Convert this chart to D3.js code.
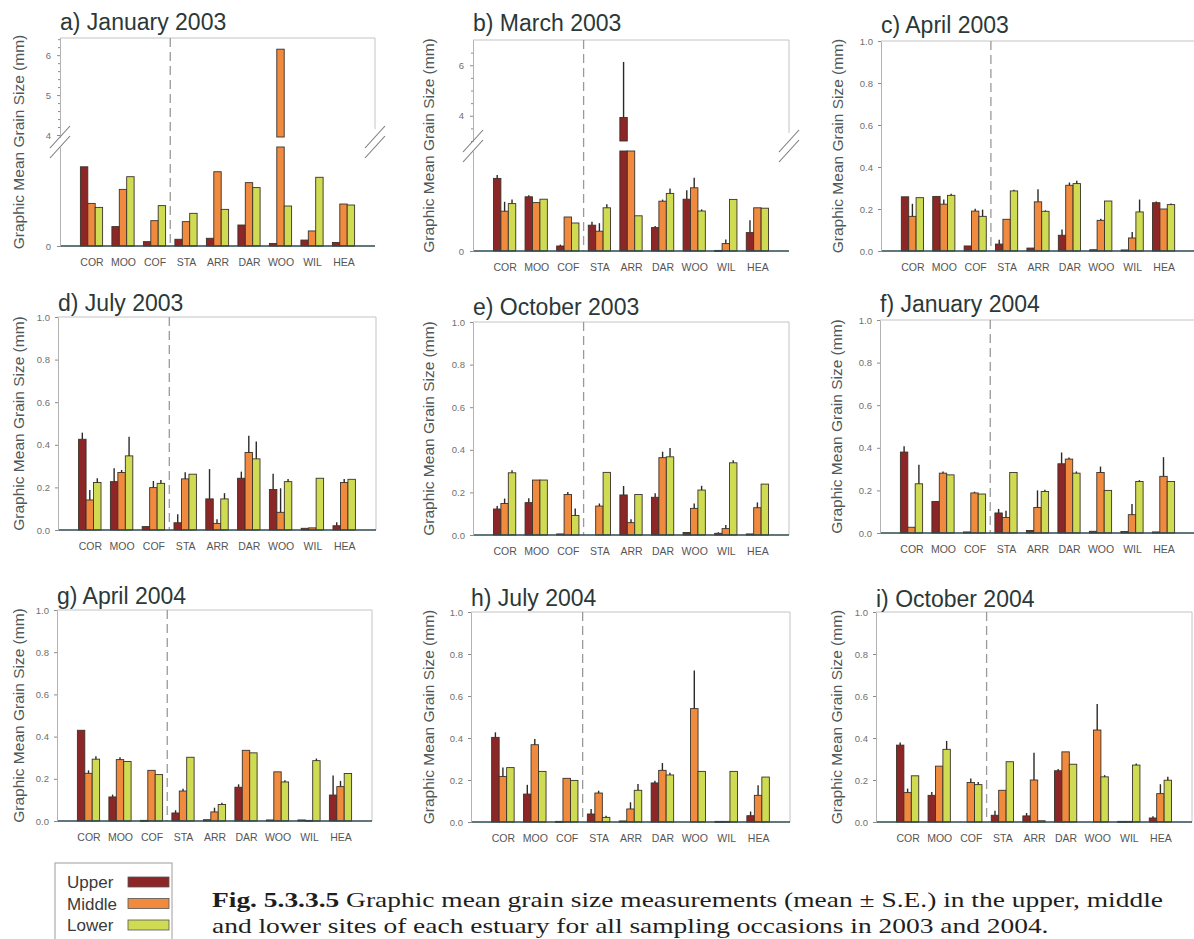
<!DOCTYPE html>
<html>
<head>
<meta charset="utf-8">
<script src="https://cdn.jsdelivr.net/npm/d3@7/dist/d3.min.js"></script>
<style>
  body { margin: 0; background: #fff; }
  svg { display: block; }
</style>
</head>
<body>
<svg id="fig" width="1194" height="939"></svg>
<script>
// ---- Data -------------------------------------------------------------
const sites = ["COR", "MOO", "COF", "STA", "ARR", "DAR", "WOO", "WIL", "HEA"];
const levels = ["Upper", "Middle", "Lower"];
const panelTitles = ["a) January 2003", "b) March 2003", "c) April 2003",
                     "d) July 2003", "e) October 2003", "f) January 2004",
                     "g) April 2004", "h) July 2004", "i) October 2004"];
const yTicks = [0, 0.2, 0.4, 0.6, 0.8, 1.0];
const yLabel = "Graphic Mean Grain Size (mm)";

// Mean grain size (mm) per site, as [Upper, Middle, Lower]; SE likewise
const jan2003Mean = [[0.40, 0.215, 0.195], [0.098, 0.286, 0.35], [0.022, 0.128, 0.204],
                     [0.034, 0.123, 0.165], [0.039, 0.375, 0.185], [0.106, 0.32, 0.295],
                     [0.013, 6.15, 0.202], [0.03, 0.076, 0.347], [0.018, 0.212, 0.207]];
const jan2003SE   = [[0, 0, 0], [0, 0, 0], [0, 0, 0], [0, 0, 0], [0, 0, 0],
                     [0, 0, 0], [0, 0, 0], [0, 0, 0], [0, 0, 0]];

const mar2003Mean = [[0.363, 0.199, 0.237], [0.271, 0.242, 0.259], [0.025, 0.17, 0.14],
                     [0.129, 0.099, 0.216], [3.93, 1.5, 0.176], [0.117, 0.249, 0.288],
                     [0.259, 0.316, 0.2], [0.003, 0.037, 0.258], [0.092, 0.216, 0.214]];
const mar2003SE   = [[0.017, 0.047, 0.02], [0.008, 0, 0], [0.007, 0, 0],
                     [0.017, 0.04, 0.018], [2.2, 0, 0], [0.008, 0.008, 0.025],
                     [0.045, 0.05, 0.008], [0, 0.02, 0], [0.062, 0, 0]];

const apr2003Mean = [[0.258, 0.165, 0.254], [0.26, 0.223, 0.265], [0.024, 0.19, 0.165],
                     [0.033, 0.151, 0.286], [0.014, 0.234, 0.189], [0.075, 0.313, 0.321],
                     [0.006, 0.146, 0.238], [0.005, 0.062, 0.186], [0.23, 0.2, 0.221]];
const apr2003SE   = [[0, 0.06, 0], [0, 0.022, 0.008], [0, 0.011, 0.032],
                     [0.02, 0, 0.006], [0, 0.06, 0.005], [0.027, 0.013, 0.013],
                     [0, 0.008, 0], [0, 0.029, 0.059], [0.006, 0, 0.005]];

const jul2003Mean = [[0.426, 0.141, 0.223], [0.227, 0.27, 0.348], [0.016, 0.199, 0.219],
                     [0.034, 0.24, 0.262], [0.146, 0.031, 0.146], [0.243, 0.364, 0.334],
                     [0.19, 0.083, 0.227], [0.008, 0.01, 0.243], [0.02, 0.223, 0.238]];
const jul2003SE   = [[0.031, 0.047, 0.02], [0.063, 0.012, 0.09], [0, 0.031, 0.016],
                     [0.04, 0.031, 0], [0.14, 0.02, 0.027], [0.031, 0.078, 0.081],
                     [0.074, 0.113, 0.012], [0, 0, 0], [0.016, 0.017, 0]];

const oct2003Mean = [[0.122, 0.148, 0.292], [0.152, 0.258, 0.258], [0.005, 0.19, 0.092],
                     [0, 0.136, 0.294], [0.188, 0.058, 0.19], [0.177, 0.363, 0.367],
                     [0.012, 0.125, 0.211], [0.008, 0.03, 0.339], [0.005, 0.128, 0.239]];
const oct2003SE   = [[0.014, 0.023, 0.012], [0.02, 0, 0], [0, 0.012, 0.033],
                     [0, 0.012, 0], [0.042, 0.016, 0], [0.019, 0.028, 0.042],
                     [0, 0.023, 0.02], [0.005, 0.017, 0.012], [0, 0.025, 0]];

const jan2004Mean = [[0.38, 0.027, 0.231], [0.148, 0.281, 0.273], [0.005, 0.188, 0.183],
                     [0.094, 0.073, 0.284], [0.012, 0.12, 0.195], [0.325, 0.347, 0.281],
                     [0.008, 0.284, 0.2], [0.007, 0.086, 0.242], [0.005, 0.266, 0.242]];
const jan2004SE   = [[0.027, 0, 0.089], [0, 0.008, 0], [0, 0.006, 0],
                     [0.019, 0.031, 0], [0, 0.08, 0.008], [0.053, 0.008, 0.008],
                     [0, 0.028, 0], [0, 0.05, 0.006], [0, 0.09, 0]];

const apr2004Mean = [[0.43, 0.226, 0.293], [0.114, 0.291, 0.282], [0.003, 0.24, 0.22],
                     [0.038, 0.142, 0.302], [0.006, 0.043, 0.078], [0.16, 0.335, 0.323],
                     [0.005, 0.233, 0.185], [0.005, 0.003, 0.286], [0.123, 0.163, 0.225]];
const apr2004SE   = [[0, 0.014, 0.014], [0.011, 0.011, 0], [0, 0, 0],
                     [0.013, 0.011, 0], [0, 0.02, 0.008], [0.014, 0, 0],
                     [0, 0, 0.008], [0, 0, 0.01], [0.093, 0.027, 0]];

const jul2004Mean = [[0.403, 0.217, 0.259], [0.133, 0.368, 0.241], [0.003, 0.208, 0.198],
                     [0.038, 0.138, 0.022], [0.005, 0.062, 0.151], [0.186, 0.246, 0.224],
                     [0, 0.54, 0.241], [0.003, 0.003, 0.241], [0.03, 0.127, 0.214]];
const jul2004SE   = [[0.024, 0.043, 0], [0.044, 0.027, 0], [0, 0, 0],
                     [0.024, 0.011, 0.008], [0, 0.032, 0.03], [0.011, 0.035, 0.01],
                     [0, 0.181, 0], [0, 0, 0], [0.02, 0.048, 0]];

const oct2004Mean = [[0.366, 0.14, 0.22], [0.127, 0.266, 0.346], [0, 0.188, 0.178],
                     [0.032, 0.151, 0.287], [0.029, 0.2, 0.006], [0.244, 0.334, 0.275],
                     [0, 0.438, 0.215], [0.003, 0.003, 0.271], [0.019, 0.135, 0.199]];
const oct2004SE   = [[0.013, 0.019, 0], [0.016, 0, 0.04], [0, 0.019, 0.013],
                     [0.021, 0, 0], [0.014, 0.13, 0], [0.008, 0, 0],
                     [0, 0.124, 0.008], [0, 0, 0.008], [0.008, 0.045, 0.016]];

const panelMeans = [jan2003Mean, mar2003Mean, apr2003Mean, jul2003Mean, oct2003Mean,
                    jan2004Mean, apr2004Mean, jul2004Mean, oct2004Mean];
const panelSEs   = [jan2003SE, mar2003SE, apr2003SE, jul2003SE, oct2003SE,
                    jan2004SE, apr2004SE, jul2004SE, oct2004SE];

// ---- Styling and layout ----------------------------------------------
const levelColors = ["#8d2727", "#f08a3e", "#cfdb52"];
const sansFont = "'Liberation Sans', Arial, sans-serif";
const serifFont = "'Liberation Serif', 'Times New Roman', serif";

// plot boxes: left/right edges, top (axis max) and zero baseline
const layout = [
  { left: 60,  right: 375,  top: 38,  zero: 246, titleY: 30,  labelX: 24,
    broken: { lowDomain: [0, 0.5], lowTop: 147, upDomain: [3.95, 6.43], upBottom: 137,
              ticks: [4, 5, 6], minorStep: 0.2 } },
  { left: 473, right: 789,  top: 40,  zero: 251, titleY: 31,  labelX: 434,
    broken: { lowDomain: [0, 0.5], lowTop: 151, upDomain: [3.0, 7.0], upBottom: 141,
              ticks: [4, 6], minorStep: 0.5 } },
  { left: 881, right: 1195, top: 41,  zero: 251, titleY: 33,  labelX: 843 },
  { left: 58,  right: 376,  top: 317, zero: 530, titleY: 311, labelX: 24 },
  { left: 473, right: 789,  top: 322, zero: 535, titleY: 315, labelX: 434 },
  { left: 880, right: 1195, top: 320, zero: 533, titleY: 312, labelX: 842 },
  { left: 57,  right: 372,  top: 610, zero: 821, titleY: 604, labelX: 24 },
  { left: 471, right: 790,  top: 612, zero: 822, titleY: 606, labelX: 434 },
  { left: 876, right: 1192, top: 612, zero: 822, titleY: 607, labelX: 842 }
];

const svg = d3.select("#fig");

function styleYAxis(a) {
  a.attr("font-family", sansFont).attr("font-size", 9.5);
  a.select(".domain").attr("stroke", "#b3b3b3");
  a.selectAll(".tick line").attr("stroke", "#8a8a8a");
  a.selectAll(".tick text").attr("fill", "#707070");
}

panelTitles.forEach((title, pi) => {
  const L = layout[pi];
  const means = panelMeans[pi];
  const ses = panelSEs[pi];
  const g = svg.append("g");

  const x = d3.scalePoint().domain(sites).range([L.left, L.right]).padding(1);
  const bw = x.step() * 0.235;
  const xo = d3.scaleBand().domain(levels).range([-1.5 * bw, 1.5 * bw]);

  // Value interval [v0, v1] -> list of pixel spans [yTop, yBottom]
  let spans, yLow, yUp, y;
  if (L.broken) {
    const B = L.broken;
    yLow = d3.scaleLinear().domain(B.lowDomain).range([L.zero, B.lowTop]);
    yUp = d3.scaleLinear().domain(B.upDomain).range([B.upBottom, L.top]);
    const lowMax = B.lowDomain[1], upMin = B.upDomain[0];
    spans = (v0, v1) => {
      const out = [];
      if (v0 < lowMax) out.push([yLow(Math.min(v1, lowMax)), yLow(v0)]);
      if (v1 > upMin) out.push([yUp(v1), yUp(Math.max(v0, upMin))]);
      return out;
    };
  } else {
    y = d3.scaleLinear().domain([0, 1]).range([L.zero, L.top]);
    spans = (v0, v1) => [[y(v1), y(v0)]];
  }

  // frame: top edge and right edge
  const frameBottom = L.broken ? L.broken.upBottom - 8 : L.zero;
  g.append("line").attr("x1", L.left).attr("x2", L.right).attr("y1", L.top).attr("y2", L.top)
    .attr("stroke", "#c4c4c4").attr("stroke-width", 1);
  g.append("line").attr("x1", L.right).attr("x2", L.right).attr("y1", L.top).attr("y2", frameBottom)
    .attr("stroke", "#c4c4c4").attr("stroke-width", 1);

  // dashed divider between the two groups of estuaries
  const xDiv = (x("COF") + x("STA")) / 2;
  g.append("line").attr("x1", xDiv).attr("x2", xDiv).attr("y1", L.top).attr("y2", L.zero)
    .attr("stroke", "#9a9a9a").attr("stroke-width", 1.3).attr("stroke-dasharray", "9,5");

  // bars and error bars
  const items = [];
  sites.forEach((s, si) => levels.forEach((lv, li) => {
    items.push({ site: s, level: lv, li: li, mean: means[si][li], se: ses[si][li] });
  }));

  items.forEach(d => {
    if (d.mean <= 0) return;
    const bx = x(d.site) + xo(d.level);
    spans(0, d.mean).forEach(([yt, yb]) => {
      g.append("rect")
        .attr("x", bx).attr("y", yt)
        .attr("width", xo.bandwidth()).attr("height", Math.max(yb - yt, 1))
        .attr("fill", levelColors[d.li])
        .attr("stroke", "#3b3228").attr("stroke-width", 0.9);
    });
    if (d.se > 0) {
      const cx = bx + xo.bandwidth() / 2;
      spans(d.mean, d.mean + d.se).forEach(([yt, yb]) => {
        g.append("line").attr("x1", cx).attr("x2", cx).attr("y1", yt).attr("y2", yb)
          .attr("stroke", "#2c2a26").attr("stroke-width", 1.4);
      });
    }
  });

  // zero baseline
  g.append("line").attr("x1", L.left).attr("x2", L.right).attr("y1", L.zero).attr("y2", L.zero)
    .attr("stroke", "#2e4a50").attr("stroke-width", 1.6);

  // y axis
  if (L.broken) {
    const B = L.broken;
    g.append("g").attr("transform", `translate(${L.left},0)`)
      .call(d3.axisLeft(yUp).tickValues(B.ticks).tickFormat(d3.format("d"))
        .tickSize(3).tickSizeOuter(0).tickPadding(6))
      .call(styleYAxis);
    const minors = d3.range(B.upDomain[0], B.upDomain[1], B.minorStep)
      .map(v => Math.round(v / B.minorStep) * B.minorStep)
      .filter(v => v >= B.upDomain[0] && v <= B.upDomain[1] && !B.ticks.includes(+v.toFixed(3)));
    g.append("g").attr("transform", `translate(${L.left},0)`)
      .call(d3.axisLeft(yUp).tickValues(minors).tickFormat("").tickSize(2).tickSizeOuter(0))
      .call(styleYAxis);
    g.append("g").attr("transform", `translate(${L.left},0)`)
      .call(d3.axisLeft(yLow).tickValues([0]).tickFormat(d3.format("d"))
        .tickSize(3).tickSizeOuter(0).tickPadding(6))
      .call(styleYAxis);

    // axis break marks on both sides
    const gc = (B.upBottom + B.lowTop) / 2;
    [L.left, L.right].forEach(bxp => {
      [-5, 5].forEach(off => {
        g.append("line")
          .attr("x1", bxp - 10).attr("y1", gc + off + 11)
          .attr("x2", bxp + 10).attr("y2", gc + off - 11)
          .attr("stroke", "#7a7a7a").attr("stroke-width", 1.1);
      });
    });
  } else {
    g.append("g").attr("transform", `translate(${L.left},0)`)
      .call(d3.axisLeft(y).tickValues(yTicks).tickFormat(d3.format(".1f"))
        .tickSize(3).tickSizeOuter(0).tickPadding(5))
      .call(styleYAxis);
  }

  // x axis labels
  g.append("g").attr("transform", `translate(0,${L.zero})`)
    .call(d3.axisBottom(x).tickSize(0).tickPadding(13))
    .call(a => {
      a.select(".domain").remove();
      a.attr("font-family", sansFont).attr("font-size", 10.5);
      a.selectAll(".tick text").attr("fill", "#555");
    });

  // panel title
  g.append("text").attr("x", L.left).attr("y", L.titleY)
    .attr("font-family", sansFont).attr("font-size", 23).attr("fill", "#2b3838")
    .text(title);

  // y axis title
  g.append("text")
    .attr("transform", `translate(${L.labelX},${(L.top + L.zero) / 2}) rotate(-90)`)
    .attr("text-anchor", "middle")
    .attr("font-family", sansFont).attr("font-size", 15.5).attr("fill", "#4e5858")
    .text(yLabel);
});

// ---- Legend -----------------------------------------------------------
const lg = svg.append("g");
lg.append("rect").attr("x", 55).attr("y", 863).attr("width", 117).attr("height", 90)
  .attr("fill", "#fff").attr("stroke", "#9c9c9c").attr("stroke-width", 1);
levels.forEach((lv, i) => {
  const yb = 888 + i * 21.5;
  lg.append("text").attr("x", 67).attr("y", yb)
    .attr("font-family", sansFont).attr("font-size", 17).attr("fill", "#3a3a3a").text(lv);
  lg.append("rect").attr("x", 128).attr("y", yb - 11).attr("width", 41).attr("height", 10)
    .attr("fill", levelColors[i]).attr("stroke", "#555").attr("stroke-width", 0.8);
});

// ---- Caption ----------------------------------------------------------
const capSize = 21;
const cap = svg.append("g").attr("font-family", serifFont).attr("fill", "#1e1e1e")
  .attr("font-size", capSize);
const line1 = cap.append("text").attr("x", 212).attr("y", 907);
line1.append("tspan").attr("font-weight", "bold").text("Fig. 5.3.3.5");
line1.append("tspan").text("  Graphic mean grain size measurements (mean \u00B1 S.E.) in the upper, middle");
const line2 = cap.append("text").attr("x", 212).attr("y", 933)
  .text("and lower sites of each estuary for all sampling occasions in 2003 and 2004.");
// widen both lines by the same factor so the first spans the text block
const stretch = 951 / line1.node().getComputedTextLength();
const w2 = line2.node().getComputedTextLength() * stretch;
line1.attr("textLength", 951).attr("lengthAdjust", "spacingAndGlyphs");
line2.attr("textLength", w2).attr("lengthAdjust", "spacingAndGlyphs");
</script>
</body>
</html>
